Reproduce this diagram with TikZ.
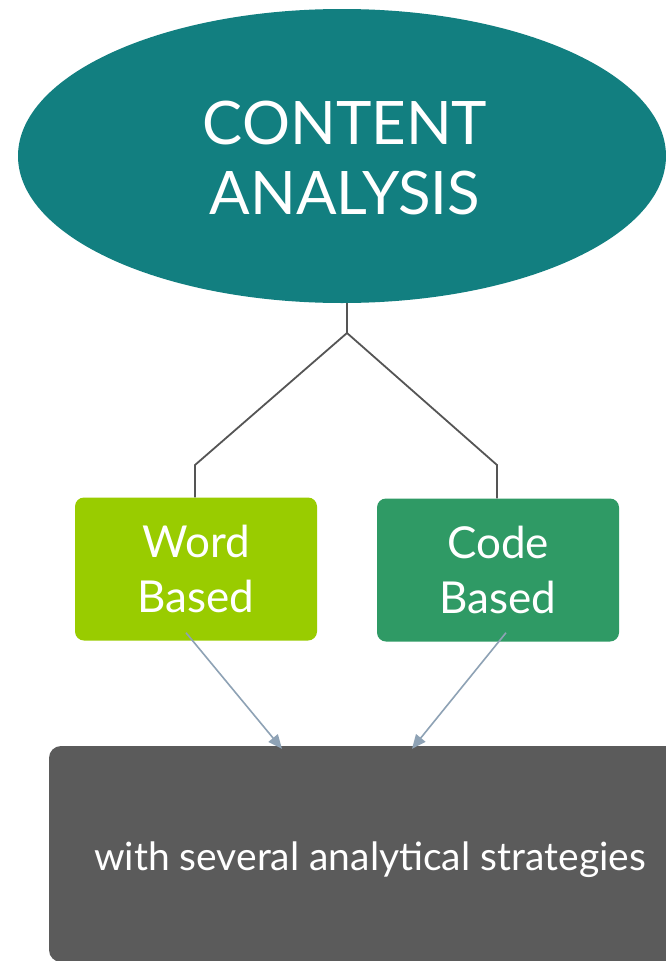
\documentclass[tikz,border=0pt]{standalone}
\usepackage{fontspec}
\setmainfont{Lato}
\usetikzlibrary{shapes.geometric,arrows.meta,calc}
\definecolor{teal}{HTML}{127F80}
\definecolor{lime}{HTML}{99CC00}
\definecolor{codegreen}{HTML}{2F9A65}
\definecolor{darkbox}{HTML}{5B5B5B}
\definecolor{connector}{HTML}{555555}
\definecolor{arrowcol}{HTML}{8EA2B5}
\tikzset{
  catbox/.style={rectangle, rounded corners=9pt, minimum width=242pt, minimum height=143pt,
    inner sep=0pt, text=white, align=center, font=\fontsize{44}{55}\selectfont},
  treeline/.style={draw=connector, line width=1.8pt},
  flowarrow/.style={draw=arrowcol, line width=1.6pt, -{Triangle[length=14pt,width=12pt]}},
}
\begin{document}
\begin{tikzpicture}[x=1pt,y=-1pt]
\useasboundingbox (0,0) rectangle (666,961);
\fill[white] (0,0) rectangle (666,961);
\begin{scope}
\clip (0,0) rectangle (666,961);
% ellipse
\node[ellipse, fill=teal, minimum width=648pt, minimum height=294pt, inner sep=0pt] (ca) at (342,156) {};
\node[text=white, align=center, font=\fontsize{60}{70}\selectfont, anchor=center] (catext) at (345,158) {CONTENT\\ANALYSIS};
% boxes
\node[catbox, fill=lime] (word) at (196,569) {Word\\Based};
\node[catbox, fill=codegreen] (code) at (498,570) {Code\\Based};
% bottom box
\node[rectangle, rounded corners=12pt, fill=darkbox, minimum width=660pt, minimum height=216pt, inner sep=0pt] (res) at (379,854) {};
\node[text=white, font=\fontsize{39}{46}\selectfont, anchor=base] (restext) at (370,870) {with several analytical strategies};
\end{scope}
% tree connectors
\coordinate (junc) at (347,333);
\draw[treeline] (ca.south -| junc) -- (junc) -- (195,465) -- (word.north -| 195,0);
\draw[treeline] (junc) -- (497,465) -- (code.north -| 497,0);
% arrows
\draw[flowarrow] ($(word.south)+(-10,-8)$) -- ($(res.north)+(-97,3)$);
\draw[flowarrow] ($(code.south)+(8,-9)$) -- ($(res.north)+(33,3)$);
\end{tikzpicture}
\end{document}
